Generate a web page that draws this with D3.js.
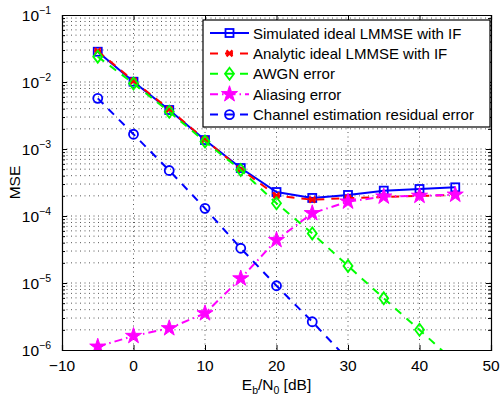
<!DOCTYPE html>
<html>
<head>
<meta charset="utf-8">
<script src="https://cdn.jsdelivr.net/npm/d3@7"></script>
<style>
  body { margin: 0; background: #fff; }
  svg text { font-family: "Liberation Sans", Arial, sans-serif; fill: #000; }
</style>
</head>
<body>
<div id="chart"></div>
<script>
// Eb/N0 values [dB]
var snr = [-5, 0, 5, 10, 15, 20, 25, 30, 35, 40, 45];

var simulated = [2.83e-2, 1.01e-2, 3.82e-3, 1.36e-3, 5.2e-4, 2.28e-4, 1.86e-4, 2.06e-4, 2.39e-4, 2.53e-4, 2.68e-4];
var analytic  = [2.9e-2, 1.04e-2, 3.9e-3, 1.38e-3, 5.0e-4, 2.02e-4, 1.75e-4, 1.85e-4, 1.92e-4, 2.0e-4, 2.05e-4];
var awgn      = [2.39e-2, 9.5e-3, 3.6e-3, 1.29e-3, 4.86e-4, 1.55e-4, 5.5e-5, 1.8e-5, 5.9e-6, 2.0e-6, 6.5e-7];
var aliasing  = [1.12e-6, 1.62e-6, 2.11e-6, 3.53e-6, 1.17e-5, 4.38e-5, 1.1e-4, 1.64e-4, 1.95e-4, 2.0e-4, 2.08e-4];
var residual  = [5.7e-3, 1.66e-3, 4.78e-4, 1.3e-4, 3.3e-5, 9.1e-6, 2.64e-6, 7.2e-7];

var xTicks = [-10, 0, 10, 20, 30, 40, 50];
var yExponents = [-6, -5, -4, -3, -2, -1];

var seriesNames = ["Simulated ideal LMMSE with IF", "Analytic ideal LMMSE with IF", "AWGN error", "Aliasing error", "Channel estimation residual error"];

var width = 500, height = 398;
var margin = { top: 15, right: 9, bottom: 48, left: 62 };
var w = width - margin.left - margin.right,
    h = height - margin.top - margin.bottom;

var svg = d3.select("#chart").append("svg")
    .attr("width", width)
    .attr("height", height);

var g = svg.append("g")
    .attr("transform", "translate(" + margin.left + "," + margin.top + ")");

var x = d3.scaleLinear().domain([-10, 50]).range([0, w]);
var y = d3.scaleLog().domain([1e-6, 1e-1]).range([h, 0]);

// minor log ticks
var yMinor = [];
yExponents.slice(0, 5).forEach(function(e) {
    for (var k = 2; k <= 9; k++) yMinor.push(k * Math.pow(10, e));
});
var yAll = yExponents.map(function(e) { return Math.pow(10, e); }).concat(yMinor);

g.append("defs").append("clipPath").attr("id", "clip")
  .append("rect").attr("width", w).attr("height", h);

// grid
var grid = g.append("g").attr("class", "grid");
grid.selectAll(".gx").data(xTicks.slice(1, -1)).enter().append("line")
    .attr("x1", d => x(d)).attr("x2", d => x(d))
    .attr("y1", 0).attr("y2", h)
    .attr("stroke", "#444").attr("stroke-width", 0.9)
    .attr("stroke-dasharray", "1,3.5");
grid.selectAll(".gy").data(yAll.filter(d => d > 1e-6 && d < 1e-1)).enter().append("line")
    .attr("x1", 0).attr("x2", w)
    .attr("y1", d => y(d)).attr("y2", d => y(d))
    .attr("stroke", "#444").attr("stroke-width", 0.9)
    .attr("stroke-dasharray", "1,3.5");

// axes (ticks inside, on all four sides)
var xAxisB = d3.axisBottom(x).tickValues(xTicks).tickSize(-5).tickFormat("");
var xAxisT = d3.axisTop(x).tickValues(xTicks).tickSize(-5).tickFormat("");
var yAxisL = d3.axisLeft(y).tickValues(yAll).tickSize(-5).tickFormat("");
var yAxisR = d3.axisRight(y).tickValues(yAll).tickSize(-5).tickFormat("");

g.append("g").attr("transform", "translate(0," + h + ")").call(xAxisB);
g.append("g").call(xAxisT);
g.append("g").call(yAxisL);
g.append("g").attr("transform", "translate(" + w + ",0)").call(yAxisR);

g.selectAll(".domain").attr("stroke", "#000").attr("stroke-width", 1.2);
g.selectAll(".tick line").attr("stroke", "#000").attr("stroke-width", 1);
// shorter minor ticks
g.selectAll(".tick").filter(function(d) { return yMinor.indexOf(d) >= 0; })
  .select("line").each(function() {
      var l = d3.select(this);
      if (l.attr("x2") != null) l.attr("x2", +l.attr("x2") * 0.6);
  });

// tick labels
g.selectAll(".xlab").data(xTicks).enter().append("text")
    .attr("x", d => x(d))
    .attr("y", h + 21)
    .attr("text-anchor", "middle")
    .style("font-size", "15.5px")
    .text(d => d < 0 ? "\u2212" + Math.abs(d) : d);

var yl = g.selectAll(".ylab").data(yExponents).enter().append("text")
    .attr("x", -11)
    .attr("y", d => y(Math.pow(10, d)) + 6)
    .attr("text-anchor", "end")
    .style("font-size", "15.5px");
yl.append("tspan").text("10");
yl.append("tspan").attr("dy", -7).style("font-size", "10.5px")
    .text(d => "\u2212" + Math.abs(d));

// axis titles
var xt = svg.append("text")
    .attr("x", margin.left + w / 2)
    .attr("y", height - 8)
    .attr("text-anchor", "middle")
    .style("font-size", "15.5px");
xt.append("tspan").text("E");
xt.append("tspan").attr("dy", 4).style("font-size", "10.5px").text("b");
xt.append("tspan").attr("dy", -4).text("/N");
xt.append("tspan").attr("dy", 4).style("font-size", "10.5px").text("0");
xt.append("tspan").attr("dy", -4).text(" [dB]");

svg.append("text")
    .attr("transform", "translate(20," + (margin.top + h / 2) + ") rotate(-90)")
    .attr("text-anchor", "middle")
    .style("font-size", "15.5px")
    .text("MSE");

// series
var series = [
    { name: seriesNames[0], values: simulated, color: "#0000ff", dash: null, marker: "square" },
    { name: seriesNames[1], values: analytic, color: "#ff0000", dash: "8,7", marker: "x" },
    { name: seriesNames[2], values: awgn, color: "#00ff00", dash: "8,7", marker: "diamond" },
    { name: seriesNames[3], values: aliasing, color: "#ff00ff", dash: "8,4,1.5,4", marker: "star" },
    { name: seriesNames[4], values: residual, color: "#0000ff", dash: "8,7", marker: "circle" }
];

var line = d3.line().x(d => x(d[0])).y(d => y(d[1]));

function drawMarker(sel, type, color) {
    if (type == "square") {
        sel.append("rect").attr("x", -4).attr("y", -4).attr("width", 8).attr("height", 8)
            .attr("fill", "none").attr("stroke", color).attr("stroke-width", 1.8);
    } else if (type == "diamond") {
        sel.append("path").attr("d", "M0,-6L4.5,0L0,6L-4.5,0Z")
            .attr("fill", "none").attr("stroke", color).attr("stroke-width", 1.8);
    } else if (type == "circle") {
        sel.append("circle").attr("r", 4.5)
            .attr("fill", "none").attr("stroke", color).attr("stroke-width", 1.8);
    } else if (type == "x") {
        sel.append("path").attr("d", "M-3,-3L3,3M-3,3L3,-3M-3.5,0L3.5,0")
            .attr("fill", "none").attr("stroke", color).attr("stroke-width", 2.2);
    } else if (type == "star") {
        sel.append("path").attr("d", d3.symbol().type(d3.symbolStar).size(80)())
            .attr("fill", color).attr("stroke", color).attr("stroke-width", 1);
    }
}

var plot = g.append("g").attr("clip-path", "url(#clip)");

series.forEach(function(s) {
    var pts = s.values.map((v, i) => [snr[i], v]);
    plot.append("path")
        .datum(pts)
        .attr("d", line)
        .attr("fill", "none")
        .attr("stroke", s.color)
        .attr("stroke-width", 2)
        .attr("stroke-dasharray", s.dash);
    plot.selectAll(null).data(pts.filter(p => p[1] >= 1e-6)).enter().append("g")
        .attr("transform", d => "translate(" + x(d[0]) + "," + y(d[1]) + ")")
        .each(function() { drawMarker(d3.select(this), s.marker, s.color); });
});

// legend
var lg = g.append("g").attr("transform", "translate(" + (203 - margin.left) + "," + (20 - margin.top) + ")");
lg.append("rect").attr("width", 287).attr("height", 107)
    .attr("fill", "#fff").attr("stroke", "#000").attr("stroke-width", 1.2);
series.forEach(function(s, i) {
    var row = lg.append("g").attr("transform", "translate(0," + (13 + i * 20.4) + ")");
    row.append("line").attr("x1", 7).attr("x2", 46).attr("y1", 0).attr("y2", 0)
        .attr("stroke", s.color).attr("stroke-width", 2)
        .attr("stroke-dasharray", s.dash);
    drawMarker(row.append("g").attr("transform", "translate(26.5,0)"), s.marker, s.color);
    row.append("text").attr("x", 50).attr("y", 5.5)
        .style("font-size", "15px")
        .text(s.name);
});
</script>
</body>
</html>
